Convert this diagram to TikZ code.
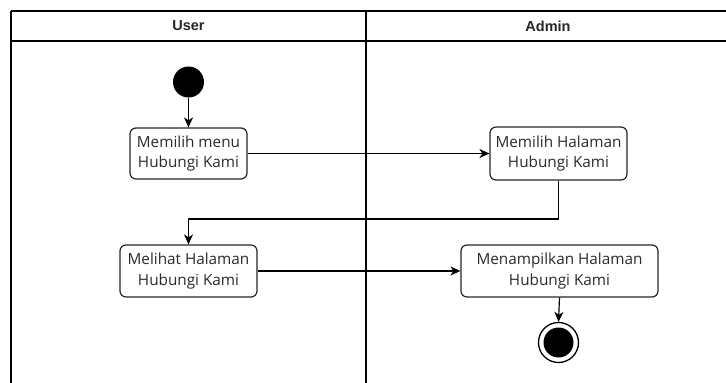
\documentclass[tikz,border=0pt]{standalone}
\usepackage{fontspec}
\setmainfont{Open Sans}
\newfontfamily\hdrfont{Liberation Sans}
\usetikzlibrary{arrows.meta}
\definecolor{txtgray}{HTML}{2A2A2A}
\begin{document}
\begin{tikzpicture}[x=1pt,y=-1pt,
  lane/.style={line width=1.3pt,draw=black},
  act/.style={draw=black!85,line width=1.2pt,rounded corners=6pt,fill=white,
    align=center,font=\fontsize{15.3}{20.5}\selectfont,text=txtgray,inner sep=0pt},
  flow/.style={line width=1.2pt,-{Stealth[length=10pt,width=9pt,inset=3pt]}},
  hdr/.style={font=\hdrfont\bfseries\fontsize{14.5}{16}\selectfont,text=black!85}]
\useasboundingbox (0,0) rectangle (726,383);
% swimlane frame
\draw[lane] (11,11) -- (726,11);
\draw[lane] (11,41) -- (726,41);
\draw[lane] (11,11) -- (11,383);
\draw[lane] (366,11) -- (366,383);
\node[hdr] (huser) at (188.5,26) {User};
\node[hdr] (hadmin) at (548,26) {Admin};
% nodes
\node[circle,fill=black,minimum size=31pt,inner sep=0pt] (start) at (188.5,82) {};
\node[act,minimum width=117pt,minimum height=51pt] (a1) at (188.5,153.5) {Memilih menu\\Hubungi Kami};
\node[act,minimum width=137pt,minimum height=53pt] (a2) at (558.5,153.5) {Memilih Halaman\\Hubungi Kami};
\node[act,minimum width=137pt,minimum height=52pt] (a3) at (188.5,271) {Melihat Halaman\\Hubungi Kami};
\node[act,minimum width=197pt,minimum height=52pt] (a4) at (559.5,271) {Menampilkan Halaman\\Hubungi Kami};
\node[circle,draw=black,line width=1.3pt,minimum size=40pt,inner sep=0pt] (end) at (558.5,342.5) {};
\node[circle,fill=black,minimum size=30pt,inner sep=0pt] (endin) at (558.5,342.5) {};
\coordinate (bend) at (558.5,219);
% connectors
\draw[flow] (start) -- (a1);
\draw[flow] (a1) -- (a2);
\draw[flow] (a2.south) -- (bend) -| (a3.north);
\draw[flow] (a3) -- (a4);
\draw[flow] (a4.south) -- (end.north);
\end{tikzpicture}
\end{document}
